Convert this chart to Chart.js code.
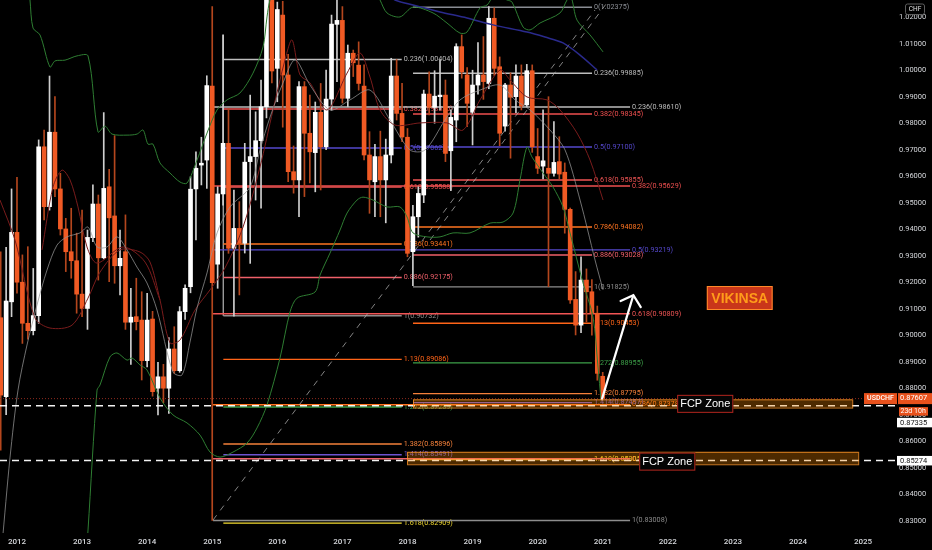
<!DOCTYPE html>
<html><head><meta charset="utf-8">
<script src="https://cdn.jsdelivr.net/npm/chart.js@4.4.1/dist/chart.umd.min.js"></script>
<style>html,body{margin:0;padding:0;background:#000;overflow:hidden}#wrap{width:932px;height:550px}</style>
</head><body><div id="wrap"><canvas id="c" width="932" height="550"></canvas></div>
<script>
// ---------- DATA ----------
const months = ['2011-10','2011-11','2011-12',
'2012-01','2012-02','2012-03','2012-04','2012-05','2012-06','2012-07','2012-08','2012-09','2012-10','2012-11','2012-12',
'2013-01','2013-02','2013-03','2013-04','2013-05','2013-06','2013-07','2013-08','2013-09','2013-10','2013-11','2013-12',
'2014-01','2014-02','2014-03','2014-04','2014-05','2014-06','2014-07','2014-08','2014-09','2014-10','2014-11','2014-12',
'2015-01','2015-02','2015-03','2015-04','2015-05','2015-06','2015-07','2015-08','2015-09','2015-10','2015-11','2015-12',
'2016-01','2016-02','2016-03','2016-04','2016-05','2016-06','2016-07','2016-08','2016-09','2016-10','2016-11','2016-12',
'2017-01','2017-02','2017-03','2017-04','2017-05','2017-06','2017-07','2017-08','2017-09','2017-10','2017-11','2017-12',
'2018-01','2018-02','2018-03','2018-04','2018-05','2018-06','2018-07','2018-08','2018-09','2018-10','2018-11','2018-12',
'2019-01','2019-02','2019-03','2019-04','2019-05','2019-06','2019-07','2019-08','2019-09','2019-10','2019-11','2019-12',
'2020-01','2020-02','2020-03','2020-04','2020-05','2020-06','2020-07','2020-08','2020-09','2020-10','2020-11','2020-12',
'2021-01'];

const open = [0.9066,0.8768,0.9126,
0.9388,0.9200,0.9045,0.9017,0.9074,0.9711,0.9485,0.9766,0.9552,0.9401,0.9315,0.9281,
0.9155,0.9101,0.9368,0.9495,0.9292,0.9560,0.9450,0.9262,0.9315,0.9049,0.9070,0.9057,
0.8904,0.9061,0.8800,0.8843,0.8800,0.8948,0.8866,0.9089,0.9183,0.9552,0.9642,0.9661,
0.9940,0.9268,0.9533,0.9724,0.9328,0.9403,0.9347,0.9655,0.9674,0.9734,0.9862,1.0275,
1.0007,1.0208,0.9982,0.9617,0.9586,0.9938,0.9762,0.9689,0.9841,0.9711,0.9891,1.0173,
1.0188,0.9894,1.0064,1.0019,0.9940,0.9680,0.9579,0.9674,0.9586,0.9680,0.9978,0.9837,
0.9747,0.9315,0.9447,0.9529,0.9910,0.9860,0.9900,0.9906,0.9696,0.9812,1.0089,0.9982,
0.9841,0.9944,0.9982,0.9950,1.0196,1.0013,0.9789,0.9944,0.9900,0.9978,0.9869,0.9998,
0.9674,0.9638,0.9630,0.9611,0.9655,0.9615,0.9475,0.9135,0.9038,0.9208,0.9164,0.9083,
0.8845];
const high = [0.9315,0.9332,0.9552,
0.9596,0.9303,0.9334,0.9252,0.9737,0.9774,0.9978,0.9900,0.9611,0.9441,0.9479,0.9385,
0.9472,0.9397,0.9567,0.9529,0.9840,0.9626,0.9753,0.9397,0.9454,0.9177,0.9215,0.9164,
0.9158,0.9090,0.8898,0.8890,0.8991,0.9032,0.9108,0.9190,0.9598,0.9692,0.9747,0.9979,
1.0240,0.9560,1.0133,0.9856,0.9548,0.9504,0.9724,0.9906,0.9843,0.9963,1.0327,1.0310,
1.0257,1.0260,1.0060,0.9714,0.9957,0.9957,0.9906,0.9880,0.9950,1.0000,1.0208,1.0344,
1.0240,1.0095,1.0076,1.0107,1.0020,0.9768,0.9720,0.9770,0.9740,1.0045,1.0040,0.9950,
0.9780,0.9490,0.9560,0.9925,0.9994,0.9998,1.0039,0.9963,0.9850,1.0100,1.0133,1.0010,
1.0000,1.0104,1.0127,1.0240,1.0235,1.0050,0.9950,0.9990,1.0020,1.0020,1.0022,1.0020,
0.9780,0.9850,0.9900,0.9806,0.9749,0.9650,0.9480,0.9240,0.9296,0.9250,0.9210,0.9110,
0.8860];
const low = [0.8566,0.8700,0.9070,
0.9159,0.8969,0.8985,0.9001,0.9045,0.9435,0.9472,0.9523,0.9378,0.9240,0.9215,0.9083,
0.9070,0.9022,0.9353,0.9208,0.9288,0.9202,0.9196,0.9152,0.9022,0.8890,0.9020,0.8831,
0.8880,0.8770,0.8699,0.8745,0.8705,0.8856,0.8860,0.9060,0.9160,0.9360,0.9567,0.9554,
0.8301,0.9177,0.9491,0.9309,0.9072,0.9152,0.9310,0.9271,0.9510,0.9479,0.9820,0.9952,
0.9881,0.9785,0.9579,0.9536,0.9447,0.9523,0.9575,0.9541,0.9548,0.9700,0.9849,0.9957,
0.9876,0.9862,0.9976,0.9925,0.9661,0.9460,0.9447,0.9447,0.9424,0.9650,0.9812,0.9730,
0.9296,0.9187,0.9370,0.9500,0.9831,0.9800,0.9850,0.9655,0.9545,0.9730,0.9970,0.9787,
0.9718,0.9910,0.9890,0.9930,0.9980,0.9715,0.9770,0.9668,0.9840,0.9850,0.9860,0.9690,
0.9610,0.9590,0.9183,0.9600,0.9590,0.9385,0.9120,0.9001,0.9010,0.9050,0.9000,0.8830,
0.8757];
const close = [0.8774,0.9129,0.9388,
0.9200,0.9045,0.9017,0.9074,0.9711,0.9485,0.9766,0.9552,0.9401,0.9315,0.9281,0.9155,
0.9101,0.9369,0.9495,0.9292,0.9554,0.9443,0.9262,0.9290,0.9049,0.9068,0.9051,0.8904,
0.9057,0.8787,0.8843,0.8800,0.8948,0.8866,0.9089,0.9177,0.9551,0.9630,0.9649,0.9942,
0.9198,0.9533,0.9724,0.9328,0.9403,0.9347,0.9653,0.9674,0.9734,0.9862,1.0275,0.9997,
1.0229,0.9982,0.9617,0.9586,0.9938,0.9762,0.9692,0.9841,0.9711,0.9891,1.0174,1.0188,
0.9894,1.0064,1.0028,0.9950,0.9680,0.9586,0.9674,0.9586,0.9680,0.9978,0.9837,0.9748,
0.9309,0.9447,0.9535,0.9910,0.9860,0.9902,0.9906,0.9686,0.9822,1.0089,0.9994,0.9875,
0.9944,0.9982,0.9957,1.0196,1.0007,0.9762,0.9944,0.9898,0.9978,0.9865,0.9998,0.9711,
0.9630,0.9658,0.9611,0.9652,0.9608,0.9475,0.9133,0.9038,0.9208,0.9164,0.9083,0.8856,
0.8761];

const yearLabels = ['2012','2013','2014','2015','2016','2017','2018','2019','2020','2021','2022','2023','2024','2025'];
const priceTicks = [0.83,0.84,0.85,0.86,0.87,0.88,0.89,0.90,0.91,0.92,0.93,0.94,0.95,0.96,0.97,0.98,0.99,1.00,1.01,1.02];

// indicator lines: [month index, price]
const upperBand = [[5.03,1.0340],[5.40,1.0265],[5.96,1.0159],[7.25,1.0133],[9.09,1.0012],[10.01,1.0035],[11.86,1.0038],[14.07,1.0054],[16.10,1.0054],[17.94,0.9767],[19.23,0.9789],[20.52,0.9759],[23.29,0.9755],[25.13,0.9759],[26.24,0.9774],[27.16,0.9721],[28.08,0.9721],[29.37,0.9650],[31.22,0.9612],[33.06,0.9578],[34.35,0.9574],[36.20,0.9661],[38.04,0.9763],[39.89,0.9850],[41.73,0.9888],[44.12,0.9914],[46.52,0.9989],[48.37,1.0088],[49.10,1.0201],[49.66,1.0265],[52.42,1.0416],[66.25,1.0416],[69.94,1.0265],[71.23,1.0216],[73.62,1.0201],[76.02,1.0238],[79.71,1.0216],[82.29,1.0178],[84.69,1.0140],[85.98,1.0144],[88.38,1.0235],[89.67,1.0246],[91.14,1.0284],[93.36,1.0265],[94.28,1.0257],[96.31,1.0163],[97.60,1.0152],[99.44,1.0178],[103.13,1.0216],[104.42,1.0265],[105.16,1.0276],[106.26,1.0189],[108.66,1.0133],[111.06,1.0069]];
const lowerBand = [[15.73,0.8152],[16.10,0.8265],[17.76,0.8793],[18.31,0.8812],[20.15,0.8918],[21.44,0.8933],[23.29,0.8906],[24.21,0.8914],[25.68,0.8888],[26.97,0.8869],[29.37,0.8763],[31.77,0.8699],[34.35,0.8669],[36.75,0.8623],[38.59,0.8559],[40.44,0.8540],[42.83,0.8559],[45.42,0.8593],[47.26,0.8650],[49.10,0.8737],[51.50,0.8914],[53.35,0.9088],[54.64,0.9140],[57.96,0.9163],[58.88,0.9227],[60.72,0.9310],[62.57,0.9397],[63.86,0.9461],[65.70,0.9510],[66.80,0.9521],[68.65,0.9510],[71.23,0.9484],[73.62,0.9484],[74.92,0.9446],[76.02,0.9386],[78.61,0.9371],[81.00,0.9371],[83.40,0.9386],[86.53,0.9386],[90.22,0.9423],[92.62,0.9427],[94.47,0.9461],[95.75,0.9586],[97.04,0.9710],[97.97,0.9672],[100.00,0.9612],[101.84,0.9559],[103.68,0.9484],[104.97,0.9386],[107.37,0.9197],[109.21,0.9069],[110.13,0.8880],[110.69,0.8755]];
const grayMA = [[0.24,0.8208],[1.71,0.8537],[3.19,0.8793],[4.85,0.8963],[6.69,0.9114],[8.54,0.9246],[10.38,0.9340],[12.22,0.9371],[14.62,0.9386],[16.10,0.9408],[17.76,0.9333],[19.60,0.9333],[21.44,0.9371],[23.29,0.9322],[25.13,0.9257],[26.97,0.9197],[28.82,0.9095],[31.77,0.8861],[33.43,0.8850],[34.90,0.8974],[36.20,0.9103],[38.04,0.9235],[39.89,0.9386],[42.28,0.9484],[45.97,0.9559],[47.81,0.9699],[49.66,0.9823],[52.05,0.9952],[54.27,1.0039],[57.03,0.9944],[60.72,0.9850],[64.41,0.9888],[68.09,0.9925],[71.78,0.9812],[75.47,0.9699],[78.24,0.9699],[81.92,0.9812],[84.69,0.9888],[88.38,0.9925],[92.07,0.9944],[94.83,0.9888],[97.60,0.9850],[101.29,0.9774],[104.05,0.9699],[106.82,0.9510],[109.58,0.9284],[111.06,0.9171]];
const redMA = [[-0.13,0.9510],[2.64,0.9359],[6.32,0.9065],[9.09,0.9027],[13.15,0.9038],[16.10,0.9140],[18.31,0.9238],[22.00,0.9322],[25.68,0.9314],[27.53,0.9276],[29.37,0.9133],[31.22,0.8971],[33.06,0.8982],[35.83,0.9095],[38.59,0.9171],[41.36,0.9254],[44.68,0.9408],[47.81,0.9635],[50.21,0.9850],[52.42,1.0039],[53.71,1.0114],[55.19,0.9982],[57.03,0.9952],[60.17,0.9850],[63.86,0.9989],[66.25,1.0065],[68.09,0.9974],[69.94,0.9850],[72.70,0.9793],[77.32,0.9801],[82.29,0.9801],[85.24,0.9774],[88.38,0.9888],[92.07,1.0001],[93.91,0.9963],[97.04,0.9899],[100.73,0.9888],[103.13,0.9850],[106.26,0.9763],[108.66,0.9661],[111.06,0.9510]];
const redMA2 = [[7.62,0.9322],[9.64,0.9559],[11.30,0.9623],[12.78,0.9586],[14.25,0.9484],[15.91,0.9333],[17.76,0.9272],[22.55,0.9333],[26.61,0.9276],[29.37,0.9133]];
const blueMA = [[69.94,1.0303],[72.70,1.0265],[76.02,1.0246],[81.00,1.0220],[85.98,1.0197],[90.78,1.0171],[97.04,1.0144],[100.36,1.0125],[103.68,1.0103],[106.82,1.0057],[109.95,1.0001]];

// Fibonacci drawings
const fibL_from = 41.05, fibL_to = 73.94;
const fibL_levels = ['0.236','0.382','0.5','0.618','0.786','0.886','1','1.13','1.272','1.382','1.414','1.618'];
const fibL_prices = [1.00404,0.98535,0.97062,0.95588,0.93441,0.92175,0.90732,0.89086,0.87289,0.85896,0.85491,0.82909];
const fibL_vertical = [[41.05,1.0133],[41.05,0.9073]];

const fibR1_from = 39.15, fibR1_to = 116.04;
const fibR1_levels = ['0.236','0.382','0.5','0.618','0.786','0.886','1'];
const fibR1_prices = [0.98610,0.95629,0.93219,0.90809,0.87378,0.85336,0.83008];

const fibR2_from = 76.02, fibR2_to = 109.03;
const fibR2_levels = ['0','0.236','0.382','0.5','0.618','0.786','0.886','1','1.13','1.272','1.382','1.414','1.618'];
const fibR2_prices = [1.02375,0.99885,0.98345,0.97100,0.95855,0.94082,0.93028,0.91825,0.90453,0.88955,0.87795,0.87457,0.85305];

// trend channel (dashed)
const channel1 = [[39.15,0.83026],[109.58,1.02272]];
const channel2 = [[79.16,0.93592],[112.17,1.02649]];

// zones
const zoneFrom = [76.02, 74.92];
const zoneTo = [157.0, 158.1];
const zoneTop = [0.8758, 0.8560];
const zoneBottom = [0.8727, 0.8513];
const zoneText = ['FCP Zone','FCP Zone'];
const zoneTextX = [129.9, 122.9];
const zoneTextY = [0.8741, 0.8523];

// horizontal lines
const hLines = [0.87335, 0.85274];
const lastPrice = 0.87607;
const symbol = 'USDCHF';
const countdown = '23d 10h';
const currency = 'CHF';

// annotation
const brandText = 'VIKINSA';
const brandX = 136.26, brandY = 0.91404;
const arrowLine = [[110.8,0.8755],[116.65,0.9151]];

// ---------- STYLE ----------
const BULL = '#ffffff', BEAR = '#f05a24', BULL_WICK = '#cfcfcf', BEAR_WICK = '#b4461d';
const levelColors = {'0':'#8a8d94','0.236':'#bdbdbd','0.382':'#ef4f4f','0.5':'#5548cc','0.618':'#f25555','0.786':'#ff7420','0.886':'#f0606a','1':'#8d8d8d','1.13':'#ff6418','1.272':'#3c9f48','1.382':'#f5803a','1.414':'#6d52d0','1.618':'#f5dc30'};
const xMin = -0.13, xMax = 164.89, yMin = 0.82536, yMax = 1.02649;

const pts = arr => arr.map(([x,y]) => ({x, y}));
const idx = months.map((m,i) => i);
const isBull = idx.map(i => close[i] >= open[i]);

const datasets = [];
datasets.push({type:'bar', label:'wick', data: idx.map(i => ({x:i, y:[low[i], high[i]]})),
  backgroundColor: idx.map(i => isBull[i] ? BULL_WICK : BEAR_WICK), barThickness:1, grouped:false, order:40});
datasets.push({type:'bar', label:'body', data: idx.map(i => ({x:i, y:[Math.min(open[i],close[i]), Math.max(open[i],close[i])]})),
  backgroundColor: idx.map(i => isBull[i] ? BULL : BEAR), barThickness:4, minBarLength:1, grouped:false, order:39});

const lineDs = (data, color, width, order, dash) => ({type:'line', data: pts(data), borderColor:color, borderWidth:width,
  pointRadius:0, tension:0.3, fill:false, order, borderDash: dash || []});

datasets.push(lineDs(upperBand, '#2e7d32', 1, 20));
datasets.push(lineDs(lowerBand, '#2e7d32', 1, 20));
datasets.push(lineDs(grayMA, 'rgba(150,150,150,0.75)', 1, 21));
datasets.push(lineDs(redMA, '#7a1c1c', 1, 21));
datasets.push(lineDs(redMA2, '#7a1c1c', 1, 21));
datasets.push(lineDs(blueMA, '#2a2a8c', 1.5, 20));

const fibGroups = [
  {from:fibL_from, to:fibL_to, levels:fibL_levels, prices:fibL_prices},
  {from:fibR1_from, to:fibR1_to, levels:fibR1_levels, prices:fibR1_prices},
  {from:fibR2_from, to:fibR2_to, levels:fibR2_levels, prices:fibR2_prices}
];
fibGroups.forEach(g => g.levels.forEach((lv,i) => {
  const ds = lineDs([[g.from,g.prices[i]],[g.to,g.prices[i]]], levelColors[lv], 1.4, 45);
  ds.tension = 0; datasets.push(ds);
}));
datasets.push(Object.assign(lineDs(fibL_vertical, '#9a9a9a', 1, 45), {tension:0}));
datasets.push(Object.assign(lineDs(channel1, 'rgba(175,175,175,0.75)', 1, 44, [6,6]), {tension:0}));
datasets.push(Object.assign(lineDs(channel2, 'rgba(175,175,175,0.75)', 1, 44, [6,6]), {tension:0}));
datasets.push(Object.assign(lineDs([[xMin,lastPrice],[xMax,lastPrice]], '#8e2a1e', 1, 3, [1,2]), {tension:0}));
hLines.forEach(p => datasets.push(Object.assign(lineDs([[xMin,p],[xMax,p]], 'rgba(255,255,255,0.95)', 1.5, 2, [7,5]), {tension:0})));
datasets.push(Object.assign(lineDs(arrowLine, '#ffffff', 2.2, 1), {tension:0}));

function roundRect(ctx, x, y, w, h, r){
  ctx.beginPath(); ctx.moveTo(x+r,y); ctx.lineTo(x+w-r,y); ctx.quadraticCurveTo(x+w,y,x+w,y+r);
  ctx.lineTo(x+w,y+h-r); ctx.quadraticCurveTo(x+w,y+h,x+w-r,y+h); ctx.lineTo(x+r,y+h);
  ctx.quadraticCurveTo(x,y+h,x,y+h-r); ctx.lineTo(x,y+r); ctx.quadraticCurveTo(x,y,x+r,y); ctx.closePath();
}

const overlay = {
  id:'overlay',
  beforeDraw(chart){ const c = chart.ctx; c.save(); c.fillStyle = '#000'; c.fillRect(0,0,chart.width,chart.height); c.restore(); },
  beforeDatasetsDraw(chart){
    const {ctx, scales:{x, y}} = chart;
    ctx.save();
    ctx.font = '7.2px Roboto'; ctx.textBaseline = 'middle'; ctx.textAlign = 'left';
    fibGroups.forEach(g => g.levels.forEach((lv,i) => {
      ctx.fillStyle = levelColors[lv];
      ctx.fillText(lv + '(' + g.prices[i].toFixed(5) + ')', x.getPixelForValue(g.to) + 2, y.getPixelForValue(g.prices[i]));
    }));
    ctx.restore();
  },
  afterDatasetsDraw(chart){
    const {ctx, scales:{x, y}, chartArea:a} = chart;
    ctx.save();
    ctx.beginPath(); ctx.rect(a.left, a.top, a.right-a.left, a.bottom-a.top); ctx.clip();
    // zones
    zoneFrom.forEach((f,i) => {
      const x1 = x.getPixelForValue(f), x2 = x.getPixelForValue(zoneTo[i]);
      const y1 = y.getPixelForValue(zoneTop[i]), y2 = y.getPixelForValue(zoneBottom[i]);
      ctx.fillStyle = 'rgba(255,140,0,0.3)'; ctx.fillRect(x1, y1, x2-x1, y2-y1);
      ctx.strokeStyle = 'rgba(255,150,40,0.8)'; ctx.lineWidth = 1; ctx.strokeRect(x1+0.5, y1+0.5, x2-x1, y2-y1);
    });
    // arrow head
    const tx = x.getPixelForValue(arrowLine[1][0]), ty = y.getPixelForValue(arrowLine[1][1]);
    const sx = x.getPixelForValue(arrowLine[0][0]), sy = y.getPixelForValue(arrowLine[0][1]);
    const ang = Math.atan2(sy-ty, sx-tx), L = 14, spread = 0.85;
    ctx.strokeStyle = '#ffffff'; ctx.lineWidth = 2.2; ctx.lineCap = 'round';
    ctx.beginPath();
    ctx.moveTo(tx + L*Math.cos(ang+spread), ty + L*Math.sin(ang+spread)); ctx.lineTo(tx, ty);
    ctx.lineTo(tx + L*Math.cos(ang-spread), ty + L*Math.sin(ang-spread));
    ctx.stroke();
    // FCP labels
    ctx.font = '11px "Liberation Sans", Arial'; ctx.textAlign = 'center'; ctx.textBaseline = 'middle';
    zoneText.forEach((t,i) => {
      const cx = x.getPixelForValue(zoneTextX[i]), cy = y.getPixelForValue(zoneTextY[i]);
      const w = ctx.measureText(t).width + 6, h = 18;
      ctx.fillStyle = '#050505'; ctx.fillRect(cx-w/2, cy-h/2, w, h);
      ctx.strokeStyle = '#b3261e'; ctx.lineWidth = 1; ctx.strokeRect(cx-w/2+0.5, cy-h/2+0.5, w-1, h-1);
      ctx.fillStyle = '#ffffff'; ctx.fillText(t, cx, cy+0.5);
    });
    // brand box
    ctx.font = 'bold 14px "Liberation Sans", Arial';
    const bx = x.getPixelForValue(brandX), by = y.getPixelForValue(brandY);
    const bw = ctx.measureText(brandText).width + 9, bh = 24;
    ctx.fillStyle = '#c9361a'; ctx.fillRect(bx-bw/2, by-bh/2, bw, bh);
    ctx.strokeStyle = '#ff8a2a'; ctx.lineWidth = 1; ctx.strokeRect(bx-bw/2+0.5, by-bh/2+0.5, bw-1, bh-1);
    ctx.fillStyle = '#ff9c1a'; ctx.fillText(brandText, bx, by+1);
    ctx.restore();
  },
  afterDraw(chart){
    const {ctx, scales:{y}, chartArea:a} = chart;
    const W = chart.width;
    ctx.save();
    ctx.textBaseline = 'middle';
    const ly = y.getPixelForValue(lastPrice);
    // symbol + last price
    ctx.fillStyle = '#e8511c';
    ctx.fillRect(a.right-31, ly-5.5, 33, 11);
    ctx.fillRect(a.right+2, ly-5.5, W-a.right-2, 11);
    ctx.strokeStyle = '#000'; ctx.lineWidth = 1;
    ctx.beginPath(); ctx.moveTo(a.right+2.5, ly-5.5); ctx.lineTo(a.right+2.5, ly+5.5); ctx.stroke();
    ctx.fillStyle = '#ffffff'; ctx.font = '500 7px Roboto'; ctx.textAlign = 'center';
    ctx.fillText(symbol, a.right-14.5, ly);
    ctx.textAlign = 'left'; ctx.font = '7.5px Roboto';
    ctx.fillText(lastPrice.toFixed(5), a.right+5, ly);
    // countdown
    ctx.fillStyle = '#e8511c'; ctx.fillRect(a.right+4, ly+8.5, 29, 8.5);
    ctx.fillStyle = '#ffffff'; ctx.font = '7px Roboto'; ctx.fillText(countdown, a.right+5.5, ly+12.8);
    // horizontal line labels
    const offs = [16.5, 0];
    hLines.forEach((p,i) => {
      const py = y.getPixelForValue(p) + offs[i];
      ctx.fillStyle = '#ffffff'; ctx.fillRect(a.right+2, py-4.5, W-a.right-2, 9.5);
      ctx.fillStyle = '#131313'; ctx.font = '7.5px Roboto'; ctx.fillText(p.toFixed(5), a.right+5, py+0.3);
    });
    // currency box
    ctx.fillStyle = '#000'; roundRect(ctx, 905.5, 4, 19, 10.5, 2); ctx.fill();
    ctx.strokeStyle = '#5d5d5d'; ctx.lineWidth = 1; ctx.stroke();
    ctx.fillStyle = '#e0e0e0'; ctx.font = '6.5px Roboto'; ctx.textAlign = 'center';
    ctx.fillText(currency, 915, 9.5);
    ctx.restore();
  }
};

Chart.defaults.font.family = 'Roboto';
new Chart(document.getElementById('c'), {
  type:'bar',
  data:{ datasets },
  options:{
    responsive:false, animation:false,
    layout:{padding:0, autoPadding:false},
    plugins:{legend:{display:false}, tooltip:{enabled:false}},
    scales:{
      x:{type:'linear', position:'bottom', min:xMin, max:xMax, offset:false,
        grid:{display:false, drawTicks:false}, border:{display:false},
        afterBuildTicks: s => { s.ticks = yearLabels.map((lb,k) => ({value: months.indexOf(lb + '-01') >= 0 ? months.indexOf(lb + '-01') : (months.length - 1) + 12*(Number(lb) - 2021)})); },
        ticks:{autoSkip:false, maxRotation:0, padding:4, color:'#d6d8dc', font:{size:8, weight:'500'}, callback:(v,i) => yearLabels[i]},
        afterFit: s => { s.height = 17; s.paddingLeft = 0; s.paddingRight = 0; }
      },
      y:{type:'linear', position:'right', min:yMin, max:yMax,
        grid:{display:false, drawTicks:false}, border:{display:false},
        afterBuildTicks: s => { s.ticks = priceTicks.map(v => ({value:v})); },
        ticks:{padding:4, color:'#d6d8dc', font:{size:7.5}, callback: v => Number(v).toFixed(5)},
        afterFit: s => { s.width = 37; s.paddingTop = 0; s.paddingBottom = 0; }
      }
    }
  },
  plugins:[overlay]
});
</script></body></html>
